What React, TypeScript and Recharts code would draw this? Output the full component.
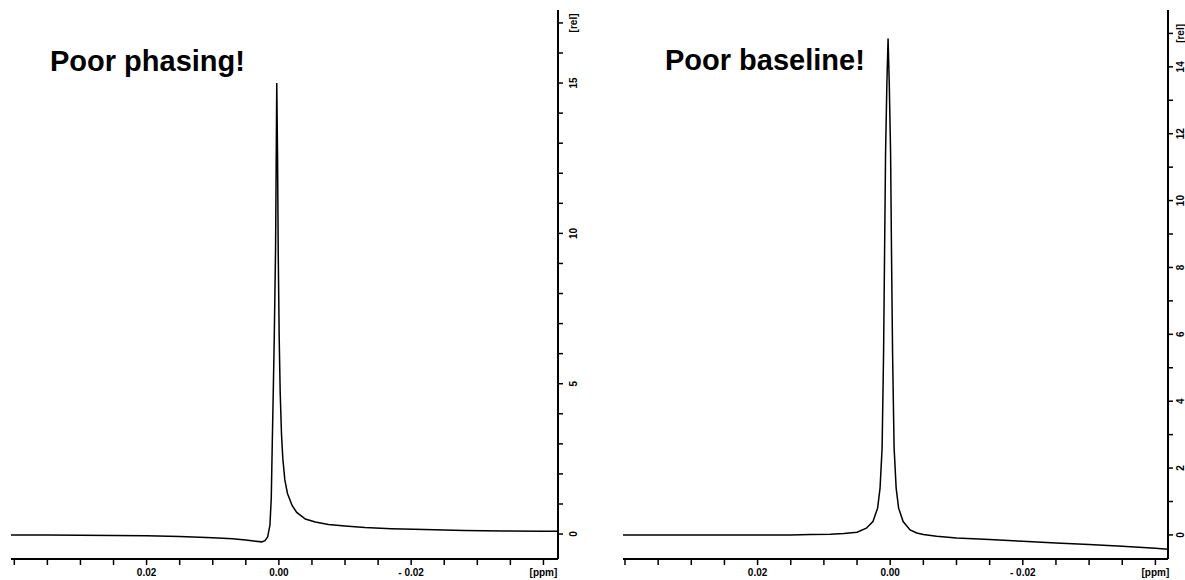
import React from 'react';
import { LineChart, Line, XAxis, YAxis } from 'recharts';

// chemical shift axis (ppm) and tick labels, shared by both panels
const ppmTicks = [0.04, 0.035, 0.03, 0.025, 0.02, 0.015, 0.01, 0.005, 0, -0.005, -0.01, -0.015, -0.02, -0.025, -0.03, -0.035, -0.04];
const ppmTickLabels = ['', '', '', '', '0.02', '', '', '', '0.00', '', '', '', '- 0.02', '', '', '', '[ppm]'];

// left panel: badly phased peak
const phasePpm = [0.0405, 0.035, 0.03, 0.025, 0.02, 0.015, 0.01, 0.007, 0.005, 0.0035, 0.0026, 0.0021, 0.0017, 0.00135, 0.00115, 0.001, 0.00085, 0.0007, 0.0005, 0.00032, 0.0002, 0.0001, -0.00005, -0.0002, -0.0004, -0.0006, -0.0009, -0.0013, -0.002, -0.0027, -0.004, -0.0055, -0.0075, -0.01, -0.013, -0.017, -0.022, -0.028, -0.034, -0.04, -0.0422];
const phaseRel = [-0.03, -0.03, -0.04, -0.05, -0.06, -0.08, -0.12, -0.16, -0.2, -0.24, -0.26, -0.22, -0.1, 0.3, 1.2, 3.0, 4.7, 6.5, 9.5, 15.0, 12.5, 9.4, 6.5, 4.7, 3.3, 2.5, 1.8, 1.35, 0.95, 0.72, 0.5, 0.4, 0.32, 0.27, 0.22, 0.18, 0.15, 0.12, 0.1, 0.09, 0.09];
const phaseRelTicks = [0, 1, 2, 3, 4, 5, 6, 7, 8, 9, 10, 11, 12, 13, 14, 15, 16, 17];
const phaseRelLabels = ['0', '', '', '', '', '5', '', '', '', '', '10', '', '', '', '', '15', '', '[rel]'];

// right panel: sloping baseline
const basePpm = [0.0403, 0.035, 0.03, 0.025, 0.02, 0.015, 0.012, 0.009, 0.007, 0.005, 0.0036, 0.0026, 0.0019, 0.00153, 0.00122, 0.001, 0.00085, 0.0007, 0.0005, 0.00032, 0.00014, -0.00006, -0.0002, -0.00036, -0.00059, -0.0009, -0.00127, -0.00195, -0.003, -0.004, -0.005, -0.007, -0.01, -0.015, -0.02, -0.025, -0.03, -0.035, -0.04, -0.0419];
const baseRel = [0, 0, 0, 0, 0, 0, 0.01, 0.02, 0.04, 0.08, 0.2, 0.4, 0.8, 1.4, 2.6, 5.4, 8.4, 11.4, 13.5, 14.85, 13.5, 11.4, 8.4, 5.4, 2.6, 1.4, 0.8, 0.4, 0.15, 0.06, 0.01, -0.04, -0.09, -0.14, -0.19, -0.24, -0.29, -0.34, -0.4, -0.43];
const baseRelTicks = [0, 1, 2, 3, 4, 5, 6, 7, 8, 9, 10, 11, 12, 13, 14, 15];
const baseRelLabels = ['0', '', '2', '', '4', '', '6', '', '8', '', '10', '', '12', '', '14', '[rel]'];

const FONT = '"Liberation Sans", Arial, sans-serif';

const XTick = (props: any) => {
  const { x, y, payload } = props;
  const label = ppmTickLabels[ppmTicks.indexOf(payload.value)] || '';
  return (
    <g>
      <line x1={x} y1={y} x2={x} y2={y + 6} stroke="#000" strokeWidth={1.5} />
      {label && (
        <text x={x} y={y + 17} textAnchor="middle" fontFamily={FONT} fontWeight="bold" fontSize={10} fill="#000">
          {label}
        </text>
      )}
    </g>
  );
};

const YTick = (props: any) => {
  const { x, y, payload, ticks, labels, offset } = props;
  const label = labels[ticks.indexOf(payload.value)] || '';
  return (
    <g>
      <line x1={x} y1={y} x2={x + 5} y2={y} stroke="#000" strokeWidth={1.5} />
      {label && (
        <text
          transform={`translate(${x + offset},${y}) rotate(-90)`}
          textAnchor="middle"
          dominantBaseline="central"
          fontFamily={FONT}
          fontWeight="bold"
          fontSize={10}
          fill="#000"
        >
          {label}
        </text>
      )}
    </g>
  );
};

interface PanelProps {
  ppm: number[];
  rel: number[];
  ppmDomain: [number, number];
  relDomain: [number, number];
  relTicks: number[];
  relLabels: string[];
  width: number;
  left: number;
  axisWidth: number;
  labelOffset: number;
}

const Panel = ({ ppm, rel, ppmDomain, relDomain, relTicks, relLabels, width, left, axisWidth, labelOffset }: PanelProps) => {
  const data = ppm.map((p, i) => ({ ppm: p, rel: rel[i] }));
  return (
    <LineChart width={width} height={580} data={data} margin={{ top: 10, right: 0, bottom: 0, left }}>
      <XAxis
        dataKey="ppm"
        type="number"
        domain={ppmDomain}
        reversed
        allowDataOverflow
        ticks={ppmTicks}
        interval={0}
        tickSize={0}
        tickMargin={0}
        tickLine={false}
        tick={<XTick />}
        height={21}
        axisLine={{ stroke: '#000', strokeWidth: 2 }}
      />
      <XAxis
        xAxisId="top"
        orientation="top"
        type="number"
        domain={ppmDomain}
        height={0}
        tick={false}
        tickLine={false}
        axisLine={{ stroke: '#999', strokeWidth: 1.5 }}
      />
      <YAxis
        orientation="right"
        type="number"
        domain={relDomain}
        allowDataOverflow
        ticks={relTicks}
        interval={0}
        tickSize={0}
        tickMargin={0}
        tickLine={false}
        tick={<YTick ticks={relTicks} labels={relLabels} offset={labelOffset} />}
        width={axisWidth}
        axisLine={{ stroke: '#000', strokeWidth: 2 }}
      />
      <YAxis
        yAxisId="left"
        orientation="left"
        type="number"
        domain={relDomain}
        width={0}
        tick={false}
        tickLine={false}
        axisLine={{ stroke: '#999', strokeWidth: 1.5 }}
      />
      <Line
        type="linear"
        dataKey="rel"
        stroke="#000"
        strokeWidth={1.5}
        dot={false}
        isAnimationActive={false}
      />
    </LineChart>
  );
};

const titleStyle: React.CSSProperties = {
  position: 'absolute',
  fontFamily: FONT,
  fontWeight: 'bold',
  fontSize: 29,
  lineHeight: '29px',
  color: '#000',
  whiteSpace: 'nowrap',
};

export default function App() {
  return (
    <div style={{ position: 'absolute', left: 0, top: 0, width: 1185, height: 580, background: '#fff' }}>
      <div style={{ position: 'absolute', left: 0, top: 0 }}>
        <Panel
          ppm={phasePpm}
          rel={phaseRel}
          ppmDomain={[-0.0422, 0.0405]}
          relDomain={[-0.83, 17.43]}
          relTicks={phaseRelTicks}
          relLabels={phaseRelLabels}
          width={600}
          left={11}
          axisWidth={42}
          labelOffset={15}
        />
      </div>
      <div style={{ position: 'absolute', left: 600, top: 0 }}>
        <Panel
          ppm={basePpm}
          rel={baseRel}
          ppmDomain={[-0.0419, 0.0403]}
          relDomain={[-0.72, 15.7]}
          relTicks={baseRelTicks}
          relLabels={baseRelLabels}
          width={585}
          left={23}
          axisWidth={17}
          labelOffset={12}
        />
      </div>
      <div style={{ ...titleStyle, left: 50, top: 47 }}>Poor phasing!</div>
      <div style={{ ...titleStyle, left: 665, top: 46 }}>Poor baseline!</div>
    </div>
  );
}
